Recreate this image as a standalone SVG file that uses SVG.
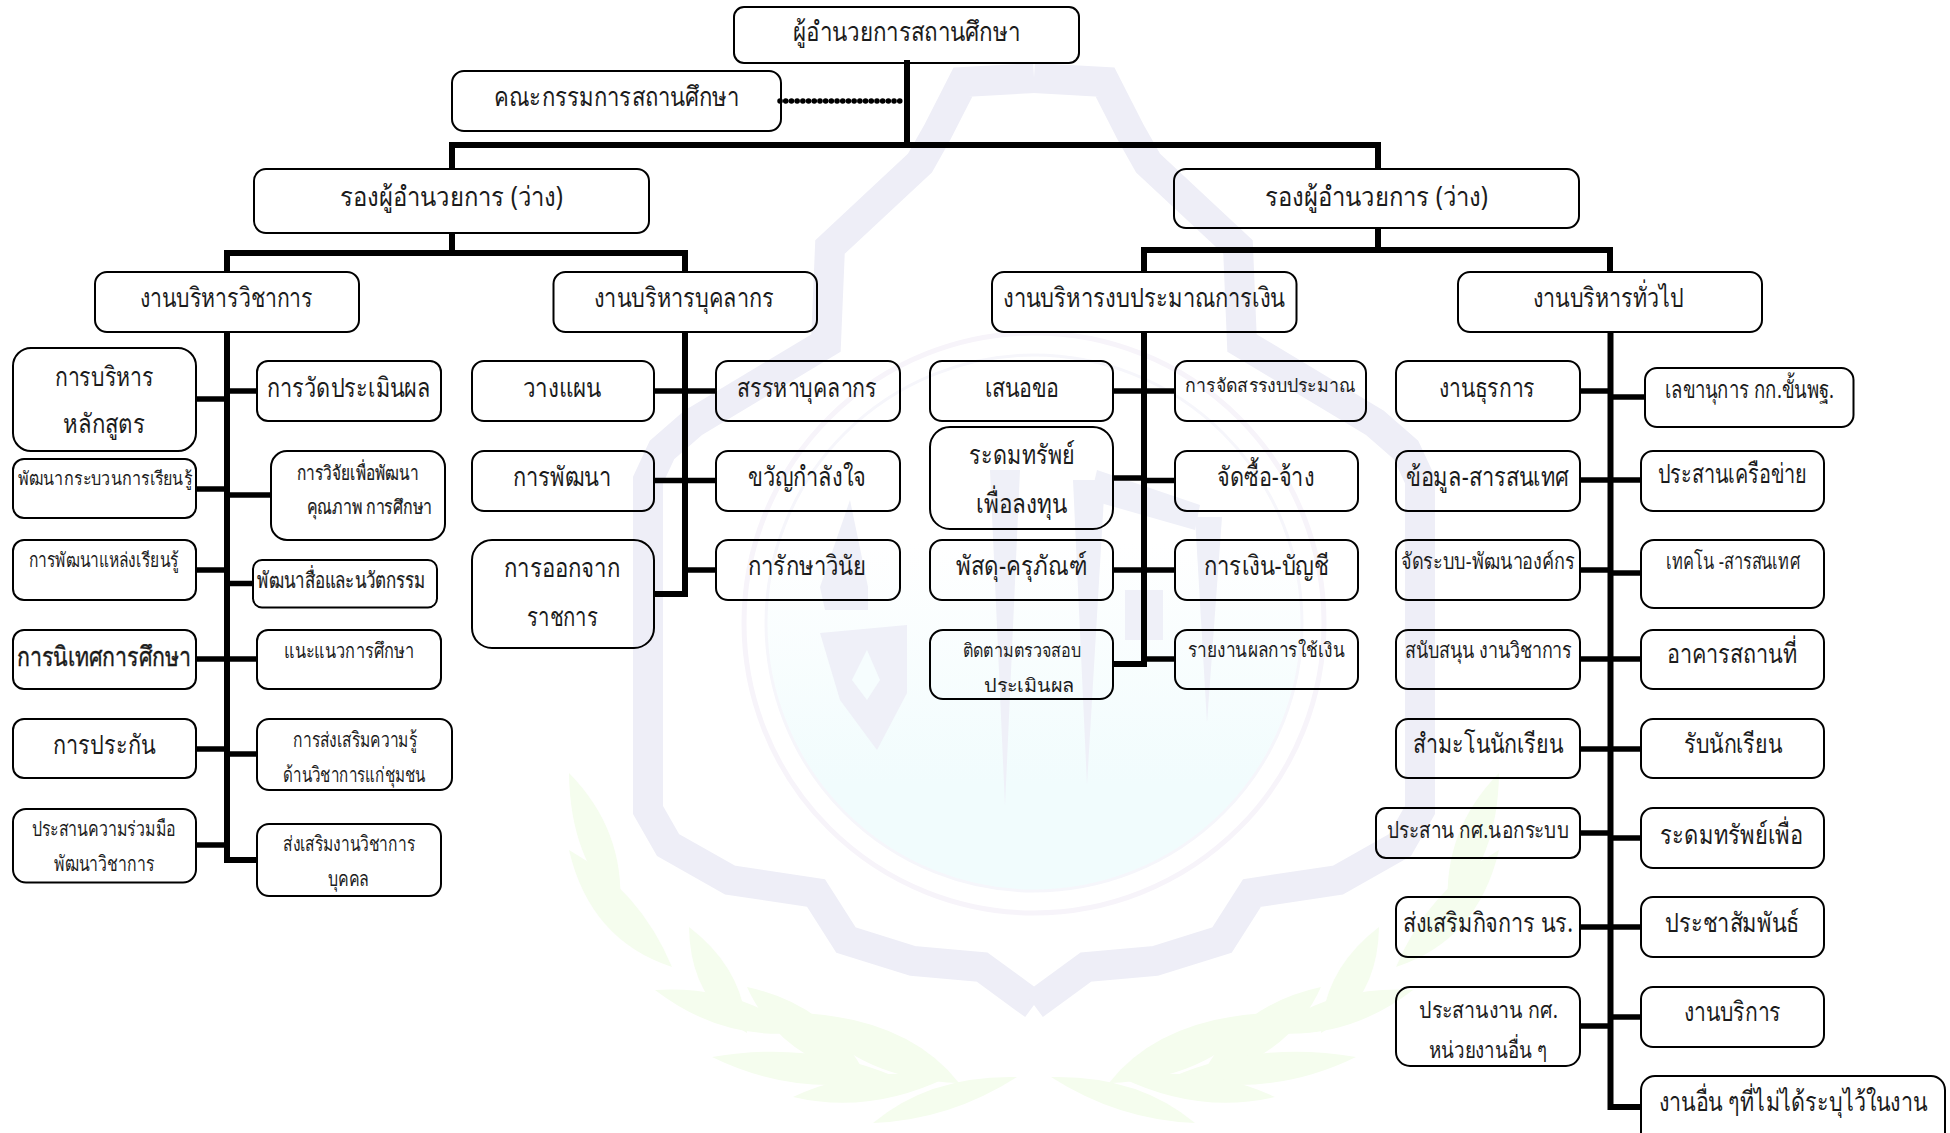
<svg xmlns="http://www.w3.org/2000/svg" xmlns:xlink="http://www.w3.org/1999/xlink" width="1950" height="1133" viewBox="0 0 1950 1133">
<style>
text{font-family:"Noto Sans","Liberation Sans",sans-serif;fill:#1c1c1c;font-size:27px}
.s19{font-size:19px}.s20{font-size:20px}.s21{font-size:21px}.s22{font-size:22px}.s23{font-size:23px}.s24{font-size:24px}
.b{stroke:#111;stroke-width:.4px}
.c{stroke:#111;stroke-width:.2px}
rect{fill:none;stroke:#000;stroke-width:2px}
#connectors path{fill:none;stroke:#000;stroke-width:6px;stroke-linejoin:miter}
#connectors path.t{stroke-width:5.500px}
#connectors path.d{stroke-width:5.500px;stroke-dasharray:.1 5.600;stroke-linecap:round}
.w{fill:none;stroke:#eeeef7;stroke-width:30px;stroke-linejoin:miter}
.leaf{fill:#f5fdee}
.strip{fill:#eff0f8}
</style>
<defs>
<linearGradient id="cy" x1="0" y1="0" x2="0" y2="1"><stop offset="0.35" stop-color="#fff"/><stop offset="0.8" stop-color="#f1fcfd"/></linearGradient>
<g id="half">
<path class="w" d="M1034 1005L982 967L913 961L846 940L816 893L730 880L668 845L648 810L648 480L662 450L693 423L826 343L830 247L920 163L937 133L963 82L1034 78"/>
<path class="leaf" d="M569 773Q570 860 620 907Q625 830 569 773Z"/>
<path class="leaf" d="M569 850Q590 940 672 967Q640 890 569 850Z"/>
<path class="leaf" d="M689 927Q690 1000 747 1033Q745 970 689 927Z"/>
<path class="leaf" d="M655 990Q720 1040 798 1033Q740 985 655 990Z"/>
<path class="leaf" d="M747 987Q780 1060 867 1077Q830 1005 747 987Z"/>
<path class="leaf" d="M712 1057Q800 1100 896 1077Q810 1040 712 1057Z"/>
<path class="leaf" d="M804 1013Q860 1080 959 1083Q910 1020 804 1013Z"/>
<path class="leaf" d="M793 1097Q870 1115 948 1077Q860 1065 793 1097Z"/>
<path class="leaf" d="M873 1123Q950 1120 1017 1077Q930 1075 873 1123Z"/>
</g>
</defs>
<rect width="1950" height="1133" style="fill:#fff;stroke:none"/>
<g id="watermark">
<circle cx="1034" cy="623" r="268" fill="url(#cy)" style="stroke:#f6f6fb;stroke-width:3px"/>
<circle cx="1034" cy="623" r="290" style="fill:none;stroke:#f7f4fa;stroke-width:5px"/>
<use xlink:href="#half" href="#half"/>
<use xlink:href="#half" href="#half" transform="translate(2068 0) scale(-1 1)"/>
<path class="strip" d="M820 633L907 625L907 693L877 750L840 700Z"/>
<path d="M867 650L880 680L867 700L852 680Z" style="fill:#f6fdfe"/>
<path class="strip" d="M850 500L868 587L820 587Z"/>
<path class="strip" d="M820 587L868 587L868 610L825 610Z"/>
<path class="strip" d="M990 470L1020 470L1005 806Z"/>
<path class="strip" d="M1073 480L1105 480L1087 785Z"/>
<path class="strip" d="M1195 517L1222 517L1207 723Z"/>
<path class="strip" d="M1097 470L1200 505L1195 530L1090 500Z"/>
<path class="strip" d="M1125 590L1163 590L1163 640L1125 640Z"/>
</g>
<g id="connectors">
<path d="M907 60V145"/>
<path class="d" d="M780 101H904"/>
<path d="M452 169V145H1378V169"/>
<path d="M452 233V253"/><path d="M227 272V253H685V272"/>
<path d="M1378 228V250"/><path d="M1144 272V250H1610V272"/>
<path d="M227 332V860H257"/><path d="M685 332V594H654"/><path d="M1144 332V664H1113"/><path d="M1610.500 332V1107H1641"/>
<path class="t" d="M196 399H227"/><path class="t" d="M196 489H227"/><path class="t" d="M196 570H227"/><path class="t" d="M196 659H227"/><path class="t" d="M196 749H227"/><path class="t" d="M196 845H227"/>
<path class="t" d="M227 391H257"/><path class="t" d="M227 495H271"/><path class="t" d="M227 583.500H253"/><path class="t" d="M227 659H257"/><path class="t" d="M227 754H257"/>
<path class="t" d="M654 391H716"/><path class="t" d="M654 480.500H716"/><path class="t" d="M685 570H716"/>
<path class="t" d="M1113 391H1175"/><path class="t" d="M1113 478H1144"/><path class="t" d="M1144 480.500H1175"/><path class="t" d="M1113 570H1175"/><path class="t" d="M1144 659H1175"/>
<path class="t" d="M1580 391H1610"/><path class="t" d="M1610 397H1645"/><path class="t" d="M1580 480H1641"/><path class="t" d="M1580 570H1610"/><path class="t" d="M1610 573H1641"/><path class="t" d="M1580 659H1641"/><path class="t" d="M1580 749H1641"/><path class="t" d="M1580 833H1610"/><path class="t" d="M1610 838H1641"/><path class="t" d="M1580 927H1641"/><path class="t" d="M1580 1026H1610"/><path class="t" d="M1610 1017H1641"/>
</g>
<g id="n-director"><rect x="734" y="7" width="345" height="56" rx="10"/><text x="793" y="41" textLength="227" lengthAdjust="spacingAndGlyphs">ผู้อำนวยการสถานศึกษา</text></g>
<g id="n-committee"><rect x="452" y="71" width="329" height="60" rx="12"/><text x="494" y="106" textLength="245" lengthAdjust="spacingAndGlyphs">คณะกรรมการสถานศึกษา</text></g>
<g id="n-deputy-l"><rect x="254" y="169" width="395" height="64" rx="12"/><text x="340" y="206" textLength="223" lengthAdjust="spacingAndGlyphs">รองผู้อำนวยการ (ว่าง)</text></g>
<g id="n-deputy-r"><rect x="1174" y="169" width="405" height="59" rx="12"/><text x="1265" y="206" textLength="223" lengthAdjust="spacingAndGlyphs">รองผู้อำนวยการ (ว่าง)</text></g>
<g id="n-academic"><rect x="95" y="272" width="264" height="60" rx="12"/><text x="140" y="307" textLength="173" lengthAdjust="spacingAndGlyphs">งานบริหารวิชาการ</text></g>
<g id="n-personnel"><rect x="553.500" y="272" width="263.500" height="60" rx="12"/><text x="594" y="307" textLength="180" lengthAdjust="spacingAndGlyphs">งานบริหารบุคลากร</text></g>
<g id="n-budget"><rect x="992" y="272" width="304.500" height="60" rx="12"/><text x="1003" y="307" textLength="282" lengthAdjust="spacingAndGlyphs">งานบริหารงบประมาณการเงิน</text></g>
<g id="n-general"><rect x="1458" y="272" width="304" height="60" rx="12"/><text x="1533" y="307" textLength="151" lengthAdjust="spacingAndGlyphs">งานบริหารทั่วไป</text></g>

<g id="a1"><rect x="13" y="348" width="183" height="103" rx="18"/><text x="55" y="386" textLength="99" lengthAdjust="spacingAndGlyphs">การบริหาร</text><text x="63" y="433" textLength="82" lengthAdjust="spacingAndGlyphs">หลักสูตร</text></g>
<g id="a2"><rect x="13" y="459" width="183" height="59" rx="11"/><text class="s19" x="18" y="485" textLength="174" lengthAdjust="spacingAndGlyphs">พัฒนากระบวนการเรียนรู้</text></g>
<g id="a3"><rect x="13" y="540" width="183" height="60" rx="11"/><text class="s20" x="29" y="567" textLength="150" lengthAdjust="spacingAndGlyphs">การพัฒนาแหล่งเรียนรู้</text></g>
<g id="a4"><rect x="13" y="630" width="183" height="59" rx="11"/><text class="b" x="17" y="666" textLength="174" lengthAdjust="spacingAndGlyphs">การนิเทศการศึกษา</text></g>
<g id="a5"><rect x="13" y="719" width="183" height="59" rx="11"/><text x="53" y="754" textLength="102" lengthAdjust="spacingAndGlyphs">การประกัน</text></g>
<g id="a6"><rect x="13" y="809" width="183" height="73.500" rx="13"/><text class="s21" x="32" y="836" textLength="144" lengthAdjust="spacingAndGlyphs">ประสานความร่วมมือ</text><text class="s21" x="54" y="871" textLength="100" lengthAdjust="spacingAndGlyphs">พัฒนาวิชาการ</text></g>
<g id="a7"><rect x="257" y="361" width="184" height="60" rx="11"/><text x="267" y="397" textLength="164" lengthAdjust="spacingAndGlyphs">การวัดประเมินผล</text></g>
<g id="a8"><rect x="271" y="451" width="174" height="89" rx="16"/><text class="s20 c" x="297" y="480" textLength="121" lengthAdjust="spacingAndGlyphs">การวิจัยเพื่อพัฒนา</text><text class="s20 c" x="307" y="514" textLength="125" lengthAdjust="spacingAndGlyphs">คุณภาพ  การศึกษา</text></g>
<g id="a9"><rect x="253" y="560" width="184" height="47.500" rx="9"/><text class="s22 c" x="257" y="588" textLength="169" lengthAdjust="spacingAndGlyphs">พัฒนาสื่อและนวัตกรรม</text></g>
<g id="a10"><rect x="257" y="630" width="184" height="59" rx="11"/><text class="s21" x="284" y="658" textLength="130" lengthAdjust="spacingAndGlyphs">แนะแนวการศึกษา</text></g>
<g id="a11"><rect x="257" y="719" width="195" height="71" rx="12"/><text class="s21" x="293" y="747" textLength="124" lengthAdjust="spacingAndGlyphs">การส่งเสริมความรู้</text><text class="s21" x="283" y="782" textLength="142" lengthAdjust="spacingAndGlyphs">ด้านวิชาการแก่ชุมชน</text></g>
<g id="a12"><rect x="257" y="824" width="184" height="72" rx="12"/><text class="s21" x="283" y="851" textLength="132" lengthAdjust="spacingAndGlyphs">ส่งเสริมงานวิชาการ</text><text class="s21" x="328" y="886" textLength="41" lengthAdjust="spacingAndGlyphs">บุคคล</text></g>

<g id="p1"><rect x="472" y="361" width="182" height="60" rx="12"/><text x="523" y="397" textLength="78" lengthAdjust="spacingAndGlyphs">วางแผน</text></g>
<g id="p2"><rect x="472" y="451" width="182" height="60" rx="12"/><text x="513" y="486" textLength="98" lengthAdjust="spacingAndGlyphs">การพัฒนา</text></g>
<g id="p3"><rect x="472" y="540" width="182" height="108" rx="20"/><text x="504" y="577" textLength="116" lengthAdjust="spacingAndGlyphs">การออกจาก</text><text x="527" y="626" textLength="71" lengthAdjust="spacingAndGlyphs">ราชการ</text></g>
<g id="p4"><rect x="716" y="361" width="184" height="60" rx="12"/><text x="737" y="397" textLength="140" lengthAdjust="spacingAndGlyphs">สรรหาบุคลากร</text></g>
<g id="p5"><rect x="716" y="451" width="184" height="60" rx="12"/><text x="748" y="486" textLength="118" lengthAdjust="spacingAndGlyphs">ขวัญกำลังใจ</text></g>
<g id="p6"><rect x="716" y="540" width="184" height="60" rx="12"/><text x="748" y="575" textLength="118" lengthAdjust="spacingAndGlyphs">การักษาวินัย</text></g>

<g id="f1"><rect x="930" y="361" width="183" height="60" rx="12"/><text x="985" y="397" textLength="74" lengthAdjust="spacingAndGlyphs">เสนอขอ</text></g>
<g id="f2"><rect x="930" y="427" width="183" height="102" rx="20"/><text x="969" y="464" textLength="106" lengthAdjust="spacingAndGlyphs">ระดมทรัพย์</text><text x="976" y="513" textLength="91" lengthAdjust="spacingAndGlyphs">เพื่อลงทุน</text></g>
<g id="f3"><rect x="930" y="540" width="183" height="60" rx="12"/><text x="956" y="575" textLength="131" lengthAdjust="spacingAndGlyphs">พัสดุ-ครุภัณฑ์</text></g>
<g id="f4"><rect x="930" y="630" width="183" height="69" rx="13"/><text class="s19" x="963" y="657" textLength="118" lengthAdjust="spacingAndGlyphs">ติดตามตรวจสอบ</text><text class="s19" x="984" y="692" textLength="91" lengthAdjust="spacingAndGlyphs">ประเมินผล</text></g>
<g id="f5"><rect x="1175" y="361" width="191" height="60" rx="12"/><text class="s19" x="1185" y="392" textLength="171" lengthAdjust="spacingAndGlyphs">การจัดสรรงบประมาณ</text></g>
<g id="f6"><rect x="1175" y="451" width="183" height="60" rx="12"/><text x="1217" y="486" textLength="97" lengthAdjust="spacingAndGlyphs">จัดซื้อ-จ้าง</text></g>
<g id="f7"><rect x="1175" y="540" width="183" height="60" rx="12"/><text x="1204" y="575" textLength="125" lengthAdjust="spacingAndGlyphs">การเงิน-บัญชี</text></g>
<g id="f8"><rect x="1175" y="630" width="183" height="59" rx="12"/><text class="s20" x="1188" y="657" textLength="157" lengthAdjust="spacingAndGlyphs">รายงานผลการใช้เงิน</text></g>

<g id="g1"><rect x="1396" y="361" width="184" height="60" rx="12"/><text x="1439" y="397" textLength="96" lengthAdjust="spacingAndGlyphs">งานธุรการ</text></g>
<g id="g2"><rect x="1396" y="451" width="184" height="60" rx="12"/><text x="1406" y="486" textLength="163" lengthAdjust="spacingAndGlyphs">ข้อมูล-สารสนเทศ</text></g>
<g id="g3"><rect x="1396" y="540" width="184" height="60" rx="12"/><text class="s22" x="1401" y="569" textLength="174" lengthAdjust="spacingAndGlyphs">จัดระบบ-พัฒนาองค์กร</text></g>
<g id="g4"><rect x="1396" y="630" width="184" height="59" rx="12"/><text class="s22" x="1405" y="658" textLength="167" lengthAdjust="spacingAndGlyphs">สนับสนุน งานวิชาการ</text></g>
<g id="g5"><rect x="1396" y="719" width="184" height="59" rx="12"/><text x="1413" y="753" textLength="150" lengthAdjust="spacingAndGlyphs">สำมะโนนักเรียน</text></g>
<g id="g6"><rect x="1376" y="808" width="204" height="50" rx="10"/><text class="s23" x="1387" y="838" textLength="182" lengthAdjust="spacingAndGlyphs">ประสาน กศ.นอกระบบ</text></g>
<g id="g7"><rect x="1396" y="897" width="184" height="60" rx="12"/><text x="1403" y="932" textLength="170" lengthAdjust="spacingAndGlyphs">ส่งเสริมกิจการ นร.</text></g>
<g id="g8"><rect x="1396" y="987" width="184" height="79" rx="14"/><text class="s23" x="1419" y="1018" textLength="139" lengthAdjust="spacingAndGlyphs">ประสานงาน  กศ.</text><text class="s23" x="1429" y="1058" textLength="118" lengthAdjust="spacingAndGlyphs">หน่วยงานอื่น ๆ</text></g>
<g id="g9"><rect x="1645" y="368" width="208.500" height="59" rx="12"/><text class="s24" x="1665" y="398" textLength="169" lengthAdjust="spacingAndGlyphs">เลขานุการ กก.ขั้นพฐ.</text></g>
<g id="g10"><rect x="1641" y="451" width="183" height="60" rx="12"/><text x="1658" y="483" textLength="149" lengthAdjust="spacingAndGlyphs">ประสานเครือข่าย</text></g>
<g id="g11"><rect x="1641" y="540" width="183" height="68" rx="13"/><text class="s22" x="1666" y="569" textLength="134" lengthAdjust="spacingAndGlyphs">เทคโน -สารสนเทศ</text></g>
<g id="g12"><rect x="1641" y="630" width="183" height="59" rx="12"/><text x="1667" y="663" textLength="130" lengthAdjust="spacingAndGlyphs">อาคารสถานที่</text></g>
<g id="g13"><rect x="1641" y="719" width="183" height="59" rx="12"/><text x="1684" y="753" textLength="98" lengthAdjust="spacingAndGlyphs">รับนักเรียน</text></g>
<g id="g14"><rect x="1641" y="808" width="183" height="60" rx="12"/><text x="1660" y="844" textLength="143" lengthAdjust="spacingAndGlyphs">ระดมทรัพย์เพื่อ</text></g>
<g id="g15"><rect x="1641" y="897" width="183" height="60" rx="12"/><text x="1665" y="932" textLength="134" lengthAdjust="spacingAndGlyphs">ประชาสัมพันธ์</text></g>
<g id="g16"><rect x="1641" y="987" width="183" height="60" rx="12"/><text x="1684" y="1021" textLength="97" lengthAdjust="spacingAndGlyphs">งานบริการ</text></g>
<g id="g17"><rect x="1641" y="1076" width="304" height="80" rx="14"/><text x="1659" y="1111" textLength="268" lengthAdjust="spacingAndGlyphs">งานอื่น ๆที่ไม่ได้ระบุไว้ในงาน</text></g>
</svg>
